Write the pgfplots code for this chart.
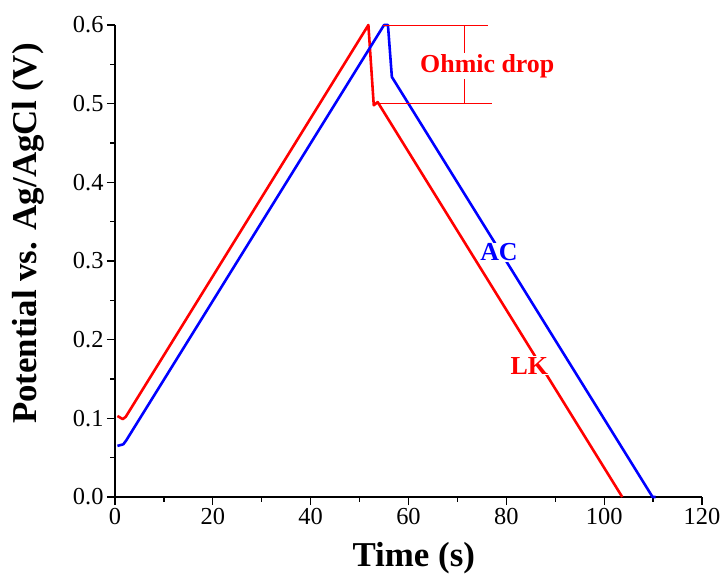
\documentclass[border=0pt]{standalone}
\usepackage{pgfplots}
\pgfplotsset{compat=1.18}
\usepackage{fontspec}
\setmainfont{Liberation Serif}
\begin{document}
\begin{tikzpicture}
\begin{axis}[
  scale only axis,
  width=587bp, height=472bp,
  xmin=0, xmax=120, ymin=0, ymax=0.6,
  axis x line*=bottom, axis y line*=left,
  axis line style={line width=1.3pt, -},
  xtick={0,20,...,120}, minor xtick={10,30,...,110},
  ytick={0,0.1,...,0.6}, minor ytick={0.05,0.15,...,0.55},
  tick align=outside,
  major tick length=8bp, minor tick length=4.5bp,
  every tick/.style={line width=1.3pt, black},
  /pgf/number format/assume math mode=true,
  xticklabel={\pgfmathprintnumber{\tick}},
  yticklabel={\pgfmathprintnumber[fixed, fixed zerofill, precision=1]{\tick}},
  ticklabel style={font=\fontsize{24.5}{27}\selectfont},
  xlabel={\textbf{Time (s)}},
  ylabel={\textbf{Potential vs. Ag/AgCl (V)}},
  xlabel style={font=\fontsize{35}{38}\selectfont, at={(axis description cs:0.509,-0.129)}, anchor=center},
  ylabel style={font=\fontsize{35}{38}\selectfont, at={(axis description cs:-0.148,0.558)}, anchor=center},
  clip=false,
]
\path (rel axis cs:-0.1959,-0.1674) rectangle (rel axis cs:1.0409,1.053);
\addplot[red, line width=2.6pt, line join=round] coordinates {
(0.5,0.103) (1.6,0.099) (2.2,0.102) (51.8,0.6) (52.9,0.498) (53.7,0.502) (103.7,0)
};
\addplot[blue, line width=2.6pt, line join=round] coordinates {
(0.5,0.065) (1.7,0.067) (2.3,0.072) (55.0,0.6) (55.8,0.6) (56.6,0.534) (109.9,0) (110.5,0)
};
% ohmic drop annotation
\addplot[red, line width=0.8pt] coordinates {(54.8,0.6) (76.3,0.6)};
\addplot[red, line width=0.8pt] coordinates {(52.8,0.5) (77.1,0.5)};
\addplot[red, line width=0.8pt] coordinates {(71.4,0.6) (71.4,0.5)};
\node[fill=white, inner sep=1pt, text=red, font=\fontsize{26}{28}\selectfont\bfseries] at (axis cs:76.1,0.548) {Ohmic drop};
\node[fill=white, inner sep=1pt, text=blue, font=\fontsize{26}{28}\selectfont\bfseries] at (axis cs:78.5,0.311) {AC};
\node[fill=white, inner sep=1pt, text=red, font=\fontsize{26}{28}\selectfont\bfseries] at (axis cs:84.7,0.167) {LK};
\end{axis}
\end{tikzpicture}
\end{document}
